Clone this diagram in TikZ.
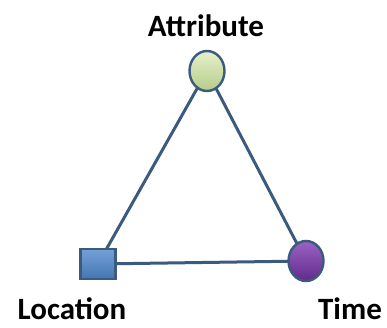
\documentclass[tikz,border=0pt]{standalone}
\usepackage{fontspec}
\setmainfont{Carlito}
\usetikzlibrary{shapes.geometric}

\definecolor{edgeblue}{HTML}{3A5A7E}
\definecolor{attrtop}{HTML}{E6F0CC}
\definecolor{attrbot}{HTML}{B5CC88}
\definecolor{timetop}{HTML}{9A62C2}
\definecolor{timebot}{HTML}{622A8C}
\definecolor{loctop}{HTML}{74A0D6}
\definecolor{locbot}{HTML}{4576B2}

\tikzset{
  vertex/.style={draw=edgeblue, line width=2.4pt, inner sep=0pt},
  edge/.style={draw=edgeblue, line width=3pt},
  label text/.style={inner sep=0pt, font=\fontsize{31}{37}\selectfont\bfseries}
}

\begin{document}
\begin{tikzpicture}[x=1pt,y=1pt]

\useasboundingbox (0,0) rectangle (387,327);

\def\vw{35}
\def\vh{40}

\coordinate (attr-pos) at (207,256);
\coordinate (loc-pos) at (98,63);
\coordinate (time-pos) at (306,66);

\draw[edge] (attr-pos) -- (loc-pos) -- (time-pos) -- cycle;

\node[vertex, ellipse, minimum width=\vw, minimum height=\vh, top color=attrtop, bottom color=attrbot] (attr) at (attr-pos) {};

\node[vertex, rectangle, minimum width=35, minimum height=30, top color=loctop, bottom color=locbot] (loc) at (loc-pos) {};

\node[vertex, ellipse, minimum width=\vw, minimum height=\vh, top color=timetop, bottom color=timebot] (time) at (time-pos) {};

\node[label text, anchor=base] (attr-label) at (206,290) {Attribute};

\node[label text, anchor=base] (loc-label) at (72,8) {Location};

\node[label text, anchor=base] (time-label) at (350,8) {Time};

\end{tikzpicture}
\end{document}
